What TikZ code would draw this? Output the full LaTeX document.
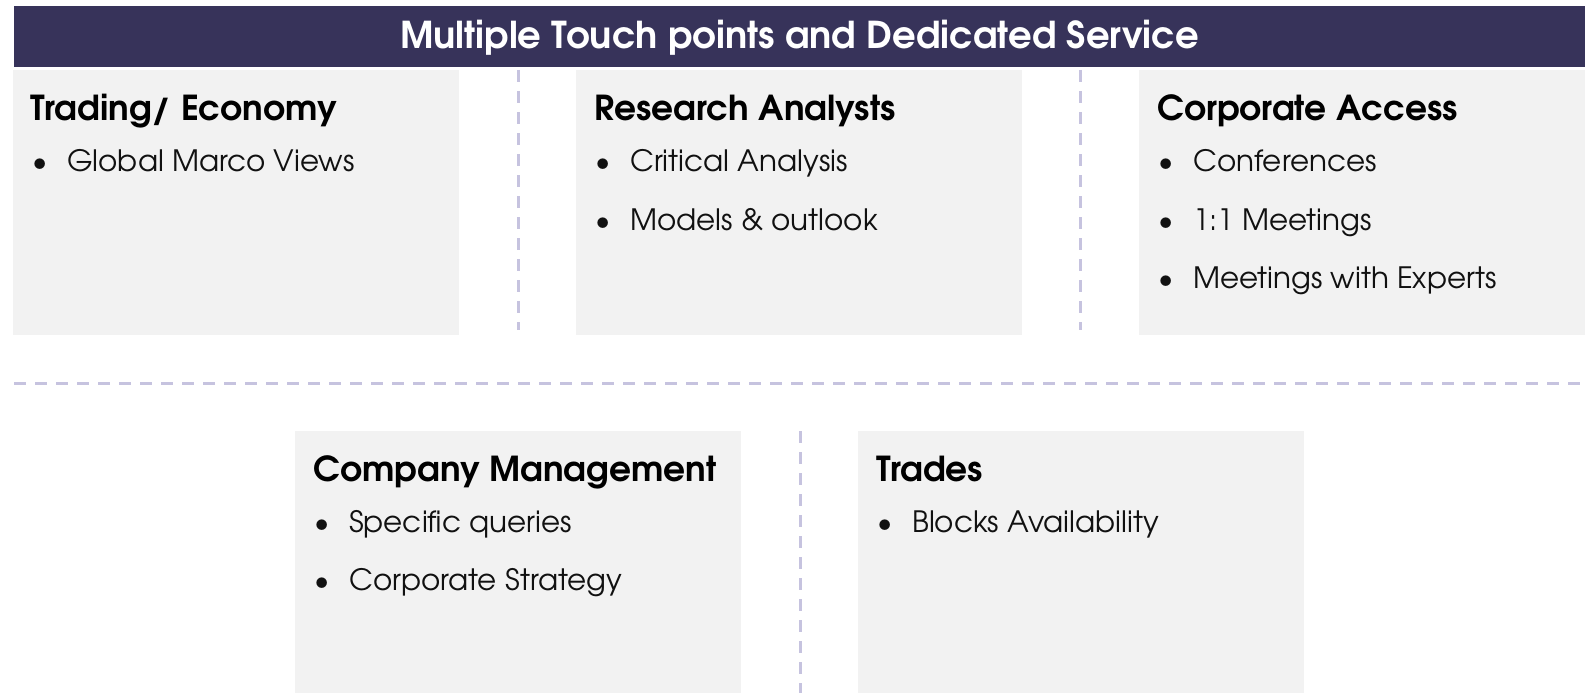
\documentclass[tikz,border=0pt]{standalone}
\usepackage{fontspec}
\setmainfont{TeX Gyre Adventor}
\usetikzlibrary{calc}
\definecolor{barcol}{HTML}{37335A}
\definecolor{boxcol}{HTML}{F2F2F2}
\definecolor{dashcol}{HTML}{C6C3DF}
\definecolor{txtcol}{HTML}{111111}
\newcommand{\itm}[1]{\makebox[35pt][l]{\textbullet}#1}
\begin{document}
\begin{tikzpicture}[x=1pt,y=1pt,
  panel/.style={fill=boxcol, draw=none, inner sep=0, outer sep=0, anchor=north west, minimum width=446pt},
  head/.style={anchor=base west, inner sep=0, font=\fontsize{34.4}{40}\selectfont\bfseries, text=black},
  item/.style={anchor=base west, inner sep=0, font=\fontsize{29.4}{34}\selectfont, text=txtcol},
  sep/.style={draw=dashcol, line width=3pt, dash pattern=on 12pt off 9pt}
]
\useasboundingbox (0,0) rectangle (1593,-693);
% title bar
\node[fill=barcol, inner sep=0, minimum width=1571pt, minimum height=61pt, anchor=north west] (bar) at (14,-6) {};
\node[text=white, font=\fontsize{37}{42}\selectfont\bfseries, inner sep=0, anchor=base] (title) at ($(bar.center)+(0,-12)$) {Multiple Touch points and Dedicated Service};
% top panels
\node[panel, minimum height=265pt] (p1) at (13,-70) {};
\node[panel, minimum height=265pt] (p2) at (576,-70) {};
\node[panel, minimum height=265pt] (p3) at (1139,-70) {};
% bottom panels
\node[panel, minimum height=262pt] (p4) at (295,-431) {};
\node[panel, minimum height=262pt] (p5) at (858,-431) {};
% separators
\coordinate (v1t) at (518,-70); \coordinate (v1b) at (518,-330);
\coordinate (v2t) at (1080,-70); \coordinate (v2b) at (1080,-330);
\coordinate (v3t) at (800,-431); \coordinate (v3b) at (800,-693);
\coordinate (hl) at (14,-383); \coordinate (hr) at (1585,-383);
\draw[sep] (v1t) -- (v1b);
\draw[sep] (v2t) -- (v2b);
\draw[sep] (v3t) -- (v3b);
\draw[sep] (hl) -- (hr);
% texts top
\node[head] (h1) at ($(p1.north west)+(17.5,-50)$) {Trading/ Economy};
\node[item] (i11) at ($(p1.north west)+(19,-101)$) {\itm{Global Marco Views}};
\node[head] (h2) at ($(p2.north west)+(18,-50)$) {Research Analysts};
\node[item] (i21) at ($(p2.north west)+(19,-101)$) {\itm{Critical Analysis}};
\node[item] (i22) at ($(p2.north west)+(19,-160)$) {\itm{Models \& outlook}};
\node[head] (h3) at ($(p3.north west)+(18,-50)$) {Corporate Access};
\node[item] (i31) at ($(p3.north west)+(19,-101)$) {\itm{Conferences}};
\node[item] (i32) at ($(p3.north west)+(19,-160)$) {\itm{1:1 Meetings}};
\node[item] (i33) at ($(p3.north west)+(19,-218)$) {\itm{Meetings with Experts}};
% texts bottom
\node[head] (h4) at ($(p4.north west)+(18,-50)$) {Company Management};
\node[item] (i41) at ($(p4.north west)+(19,-101)$) {\itm{Specific queries}};
\node[item] (i42) at ($(p4.north west)+(19,-159)$) {\itm{Corporate Strategy}};
\node[head] (h5) at ($(p5.north west)+(18,-50)$) {Trades};
\node[item] (i51) at ($(p5.north west)+(19,-101)$) {\itm{Blocks Availability}};
\end{tikzpicture}
\end{document}
